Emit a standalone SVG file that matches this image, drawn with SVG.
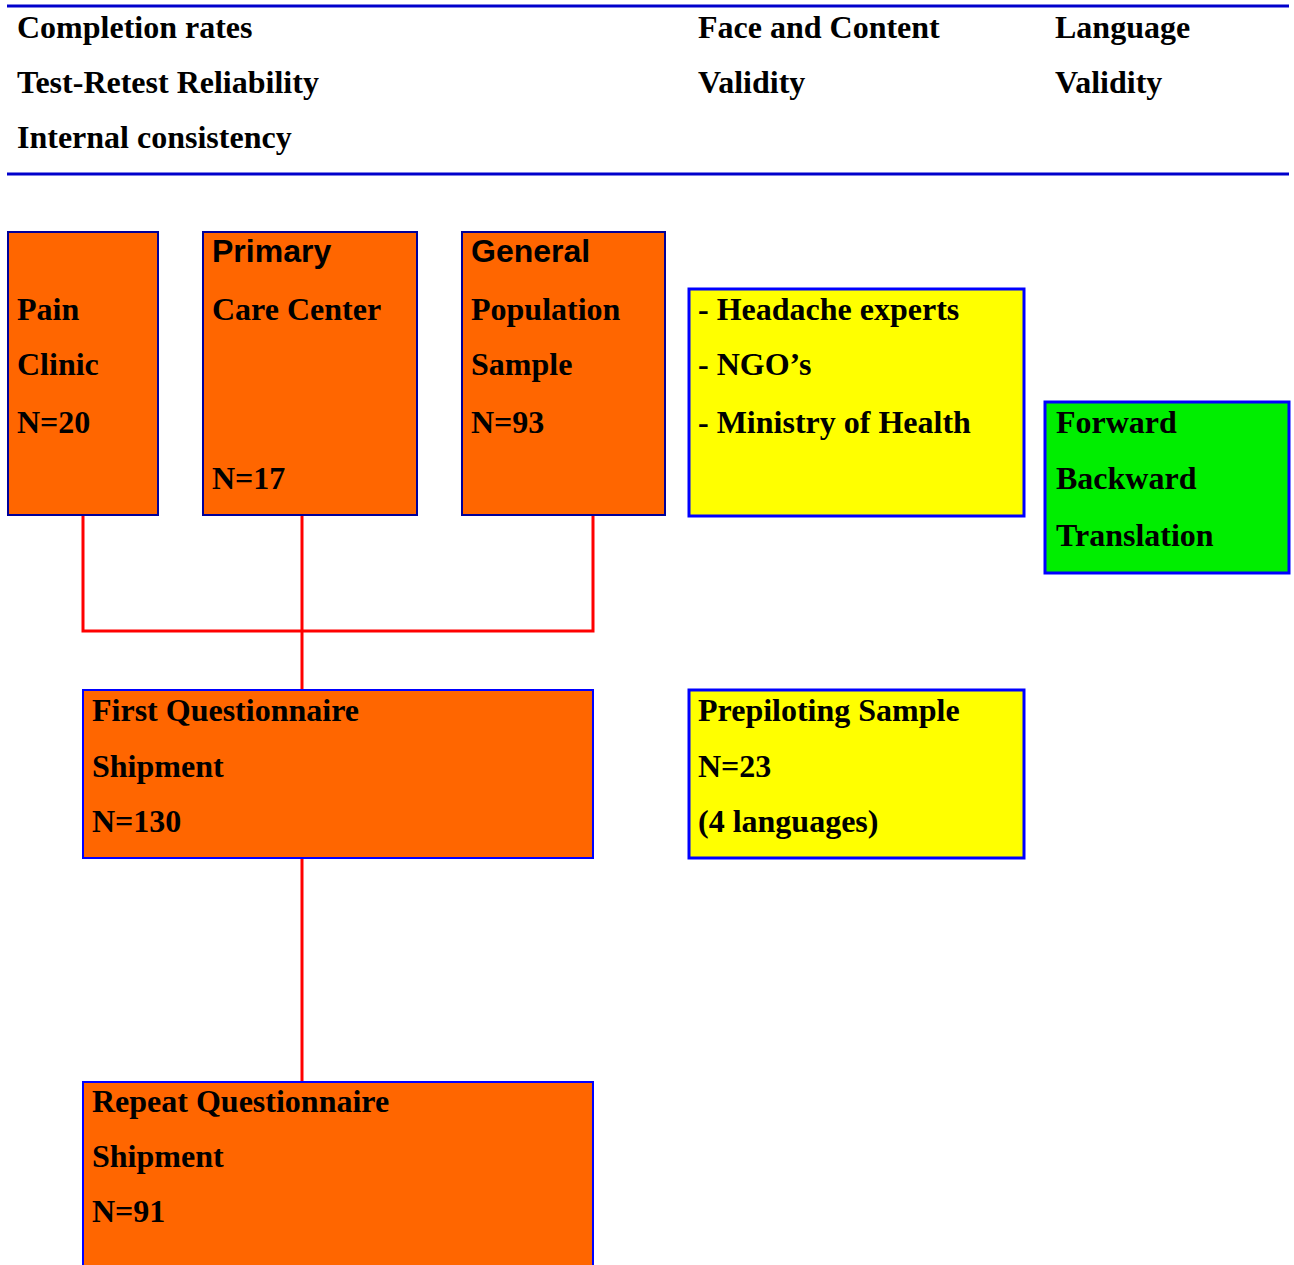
<svg xmlns="http://www.w3.org/2000/svg" width="1294" height="1265" viewBox="0 0 1294 1265">
<style>
.t{font-family:"Liberation Serif","Times New Roman",serif;font-weight:bold;font-size:32px;fill:#000}
.a{font-family:"Liberation Sans",Arial,sans-serif;font-weight:bold;font-size:32px;fill:#000}
.or1{fill:#FF6600;stroke:#000099;stroke-width:2}
.or2{fill:#FF6600;stroke:#0000FF;stroke-width:2}
.ye{fill:#FFFF00;stroke:#0000FF;stroke-width:3}
.gr{fill:#00EE00;stroke:#0000FF;stroke-width:3}
.rule{stroke:#0000CC;stroke-width:3}
.con{stroke:#FF0000;stroke-width:3;fill:none}
</style>
<rect width="1294" height="1265" fill="#fff"/>
<g id="header">
<line class="rule" x1="7" y1="6" x2="1289" y2="6"/>
<line class="rule" x1="7" y1="174" x2="1289" y2="174"/>
<text class="t" x="17" y="38">Completion rates</text>
<text class="t" x="17" y="93">Test-Retest Reliability</text>
<text class="t" x="17" y="148">Internal consistency</text>
<text class="t" x="698" y="38">Face and Content</text>
<text class="t" x="698" y="93">Validity</text>
<text class="t" x="1055" y="38">Language</text>
<text class="t" x="1055" y="93">Validity</text>
</g>
<g id="connectors">
<polyline class="con" points="83,515 83,631 593,631 593,515"/>
<line class="con" x1="302" y1="515" x2="302" y2="690"/>
<line class="con" x1="302" y1="858" x2="302" y2="1082"/>
</g>
<g id="pain-clinic">
<rect class="or1" x="8" y="232" width="150" height="283"/>
<text class="t" x="17" y="320">Pain</text>
<text class="t" x="17" y="375">Clinic</text>
<text class="t" x="17" y="433">N=20</text>
</g>
<g id="primary-care">
<rect class="or1" x="203" y="232" width="214" height="283"/>
<text class="a" x="212" y="262">Primary</text>
<text class="t" x="212" y="320">Care Center</text>
<text class="t" x="212" y="489">N=17</text>
</g>
<g id="general-population">
<rect class="or1" x="462" y="232" width="203" height="283"/>
<text class="a" x="471" y="262">General</text>
<text class="t" x="471" y="320">Population</text>
<text class="t" x="471" y="375">Sample</text>
<text class="t" x="471" y="433">N=93</text>
</g>
<g id="experts">
<rect class="ye" x="689" y="289" width="335" height="227"/>
<text class="t" x="698" y="320">- Headache experts</text>
<text class="t" x="698" y="375">- NGO’s</text>
<text class="t" x="698" y="433">- Ministry of Health</text>
</g>
<g id="translation">
<rect class="gr" x="1045" y="402" width="244" height="171"/>
<text class="t" x="1056" y="433">Forward</text>
<text class="t" x="1056" y="489">Backward</text>
<text class="t" x="1056" y="546">Translation</text>
</g>
<g id="first-shipment">
<rect class="or2" x="83" y="690" width="510" height="168"/>
<text class="t" x="92" y="721">First Questionnaire</text>
<text class="t" x="92" y="777">Shipment</text>
<text class="t" x="92" y="832">N=130</text>
</g>
<g id="prepiloting">
<rect class="ye" x="689" y="690" width="335" height="168"/>
<text class="t" x="698" y="721">Prepiloting Sample</text>
<text class="t" x="698" y="777">N=23</text>
<text class="t" x="698" y="832">(4 languages)</text>
</g>
<g id="repeat-shipment">
<rect class="or2" x="83" y="1082" width="510" height="190"/>
<text class="t" x="92" y="1112">Repeat Questionnaire</text>
<text class="t" x="92" y="1167">Shipment</text>
<text class="t" x="92" y="1222">N=91</text>
</g>
</svg>
